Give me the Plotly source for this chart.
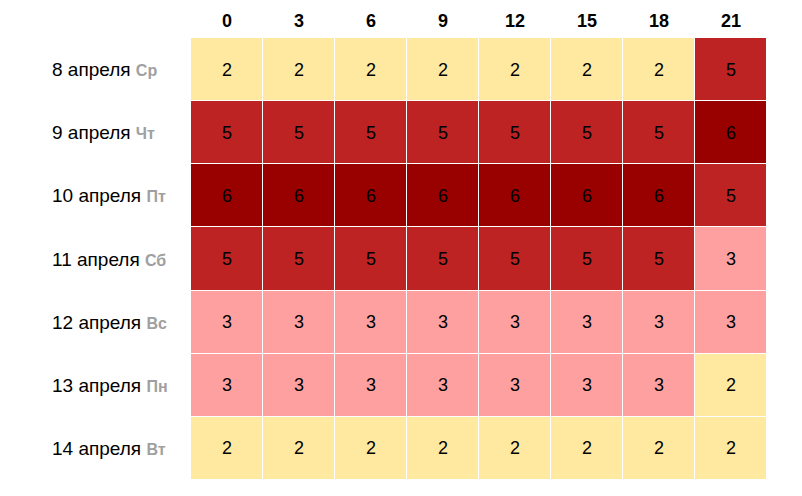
import plotly.graph_objects as go

# Часы (столбцы) и даты (строки)
hours = ["0", "3", "6", "9", "12", "15", "18", "21"]
dates = ["8 апреля", "9 апреля", "10 апреля", "11 апреля", "12 апреля", "13 апреля", "14 апреля"]
weekdays = ["Ср", "Чт", "Пт", "Сб", "Вс", "Пн", "Вт"]

# Значения по строкам
values = [
    [2, 2, 2, 2, 2, 2, 2, 5],
    [5, 5, 5, 5, 5, 5, 5, 6],
    [6, 6, 6, 6, 6, 6, 6, 5],
    [5, 5, 5, 5, 5, 5, 5, 3],
    [3, 3, 3, 3, 3, 3, 3, 3],
    [3, 3, 3, 3, 3, 3, 3, 2],
    [2, 2, 2, 2, 2, 2, 2, 2],
]

YELLOW = "#ffe9a0"
PINK = "#ffa0a0"
RED = "#be2323"
DARK = "#990000"
FONT = "Liberation Sans, Arial"

colorscale = [
    [0.0, YELLOW], [0.125, YELLOW],
    [0.125, PINK], [0.5, PINK],
    [0.5, RED], [0.875, RED],
    [0.875, DARK], [1.0, DARK],
]

fig = go.Figure(
    go.Heatmap(
        z=values,
        x=hours,
        y=dates,
        colorscale=colorscale,
        zmin=2,
        zmax=6,
        showscale=False,
        xgap=1,
        ygap=1,
        text=values,
        texttemplate="%{text}",
        textfont=dict(size=18, color="black", family=FONT),
        hoverinfo="skip",
    )
)

# подписи строк слева, выровненные по левому краю
for d, w in zip(dates, weekdays):
    fig.add_annotation(
        x=-0.2448,
        xref="paper",
        y=d,
        yref="y",
        xanchor="left",
        showarrow=False,
        text=f"{d} <span style='color:#a0a0a0;font-size:16px'><b>{w}</b></span>",
        font=dict(size=19, color="black", family=FONT),
    )

fig.update_layout(
    width=802,
    height=496,
    plot_bgcolor="white",
    paper_bgcolor="white",
    font=dict(family=FONT, size=18, color="black"),
    margin=dict(l=183, r=43, t=30, b=24, autoexpand=False),
    xaxis=dict(
        side="top",
        type="category",
        showgrid=False,
        zeroline=False,
        ticks="",
        tickprefix="<b>",
        ticksuffix="</b>",
        tickfont=dict(size=18),
        ticklabelstandoff=6,
        automargin=False,
    ),
    yaxis=dict(
        type="category",
        autorange="reversed",
        showgrid=False,
        zeroline=False,
        showticklabels=False,
        ticks="",
        automargin=False,
    ),
)

fig.write_html("out.html")
